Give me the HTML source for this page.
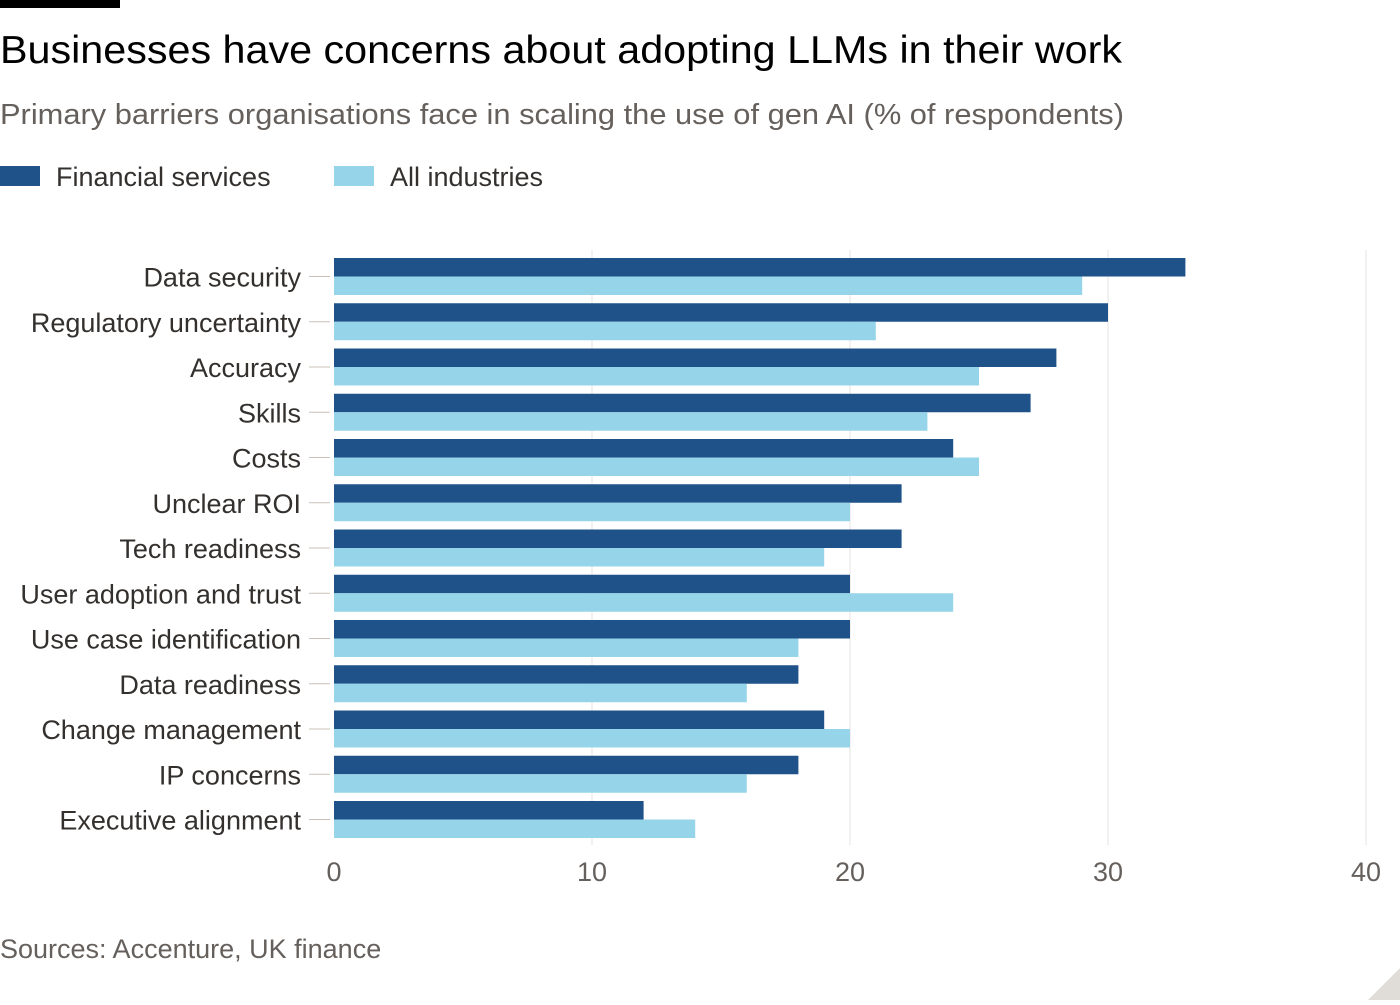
<!DOCTYPE html>
<html><head><meta charset="utf-8"><style>
body{margin:0;width:1400px;height:1000px;background:#fff;overflow:hidden;font-family:"Liberation Sans",sans-serif;}
</style></head><body>
<svg width="1400" height="1000" xmlns="http://www.w3.org/2000/svg" font-family="Liberation Sans, sans-serif">
<rect x="0" y="0" width="120" height="8" fill="#000"/>
<text x="0" y="63" font-size="39" fill="#000" textLength="1122" lengthAdjust="spacingAndGlyphs">Businesses have concerns about adopting LLMs in their work</text>
<text x="0" y="124" font-size="29" fill="#66605c" textLength="1124" lengthAdjust="spacingAndGlyphs">Primary barriers organisations face in scaling the use of gen AI (% of respondents)</text>
<rect x="0" y="166" width="40" height="20" fill="#1f5289"/>
<text x="56" y="186" font-size="27" fill="#33302e">Financial services</text>
<rect x="334" y="166" width="40" height="20" fill="#96d4ea"/>
<text x="390" y="186" font-size="27" fill="#33302e">All industries</text>
<g stroke="#e6e3df" stroke-width="1">
<line x1="592" y1="250" x2="592" y2="845"/><line x1="850" y1="250" x2="850" y2="845"/>
<line x1="1108" y1="250" x2="1108" y2="845"/><line x1="1366" y1="250" x2="1366" y2="845"/>
</g>
<g fill="#1f5289">
<rect x="334" y="258" width="851.4" height="18.5"/>
<rect x="334" y="303.25" width="774" height="18.5"/>
<rect x="334" y="348.5" width="722.4" height="18.5"/>
<rect x="334" y="393.75" width="696.6" height="18.5"/>
<rect x="334" y="439" width="619.2" height="18.5"/>
<rect x="334" y="484.25" width="567.6" height="18.5"/>
<rect x="334" y="529.5" width="567.6" height="18.5"/>
<rect x="334" y="574.75" width="516" height="18.5"/>
<rect x="334" y="620" width="516" height="18.5"/>
<rect x="334" y="665.25" width="464.4" height="18.5"/>
<rect x="334" y="710.5" width="490.2" height="18.5"/>
<rect x="334" y="755.75" width="464.4" height="18.5"/>
<rect x="334" y="801" width="309.6" height="18.5"/>
</g>
<g fill="#96d4ea">
<rect x="334" y="276.5" width="748.2" height="18.5"/>
<rect x="334" y="321.75" width="541.8" height="18.5"/>
<rect x="334" y="367" width="645" height="18.5"/>
<rect x="334" y="412.25" width="593.4" height="18.5"/>
<rect x="334" y="457.5" width="645" height="18.5"/>
<rect x="334" y="502.75" width="516" height="18.5"/>
<rect x="334" y="548" width="490.2" height="18.5"/>
<rect x="334" y="593.25" width="619.2" height="18.5"/>
<rect x="334" y="638.5" width="464.4" height="18.5"/>
<rect x="334" y="683.75" width="412.8" height="18.5"/>
<rect x="334" y="729" width="516" height="18.5"/>
<rect x="334" y="774.25" width="412.8" height="18.5"/>
<rect x="334" y="819.5" width="361.2" height="18.5"/>
</g>
<g stroke="#ccc1b7" stroke-width="1">
<line x1="309" x2="330" y1="276.5" y2="276.5"/><line x1="309" x2="330" y1="321.75" y2="321.75"/>
<line x1="309" x2="330" y1="367" y2="367"/><line x1="309" x2="330" y1="412.25" y2="412.25"/>
<line x1="309" x2="330" y1="457.5" y2="457.5"/><line x1="309" x2="330" y1="502.75" y2="502.75"/>
<line x1="309" x2="330" y1="548" y2="548"/><line x1="309" x2="330" y1="593.25" y2="593.25"/>
<line x1="309" x2="330" y1="638.5" y2="638.5"/><line x1="309" x2="330" y1="683.75" y2="683.75"/>
<line x1="309" x2="330" y1="729" y2="729"/><line x1="309" x2="330" y1="774.25" y2="774.25"/>
<line x1="309" x2="330" y1="819.5" y2="819.5"/>
</g>
<g font-size="27" fill="#33302e" text-anchor="end">
<text x="301" y="286.5">Data security</text>
<text x="301" y="331.75">Regulatory uncertainty</text>
<text x="301" y="377">Accuracy</text>
<text x="301" y="422.25">Skills</text>
<text x="301" y="467.5">Costs</text>
<text x="301" y="512.75">Unclear ROI</text>
<text x="301" y="558">Tech readiness</text>
<text x="301" y="603.25">User adoption and trust</text>
<text x="301" y="648.5">Use case identification</text>
<text x="301" y="693.75">Data readiness</text>
<text x="301" y="739">Change management</text>
<text x="301" y="784.25">IP concerns</text>
<text x="301" y="829.5">Executive alignment</text>
</g>
<g font-size="27" fill="#66605c" text-anchor="middle">
<text x="334" y="881">0</text><text x="592" y="881">10</text><text x="850" y="881">20</text><text x="1108" y="881">30</text><text x="1366" y="881">40</text>
</g>
<text x="0" y="958" font-size="27" fill="#66605c">Sources: Accenture, UK finance</text>
<polygon points="1400,968 1400,1000 1368,1000" fill="#e0ddd9"/>
</svg>
</body></html>
